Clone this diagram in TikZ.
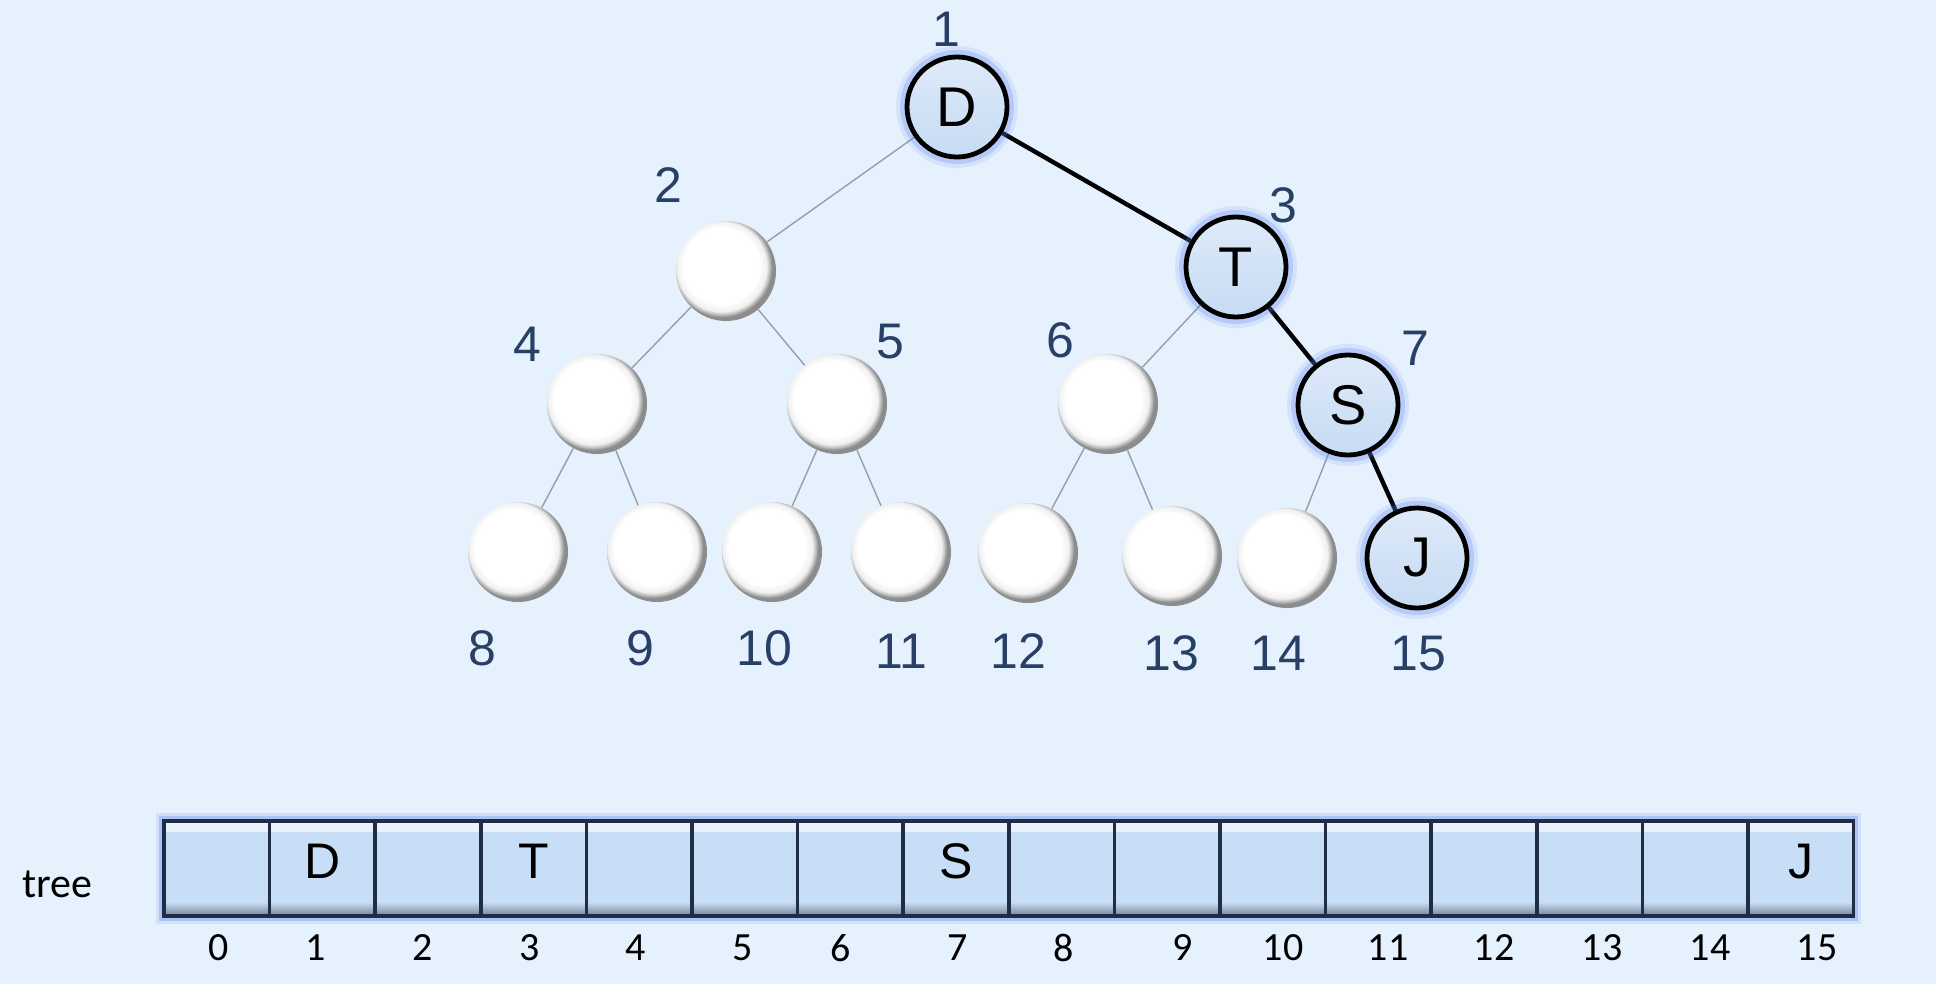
\documentclass[tikz,border=0pt]{standalone}
\usepackage{fontspec}
\setmainfont{Liberation Sans}
\newfontfamily\idxfont{Carlito}

\definecolor{paperblue}{RGB}{229,241,253}
\definecolor{lbl}{RGB}{40,64,102}
\definecolor{edgegray}{RGB}{150,158,168}
\definecolor{hitop}{RGB}{222,234,249}
\definecolor{hibot}{RGB}{198,219,243}
\definecolor{glow}{RGB}{90,130,240}
\definecolor{cellblue}{RGB}{199,222,246}
\definecolor{cellshade}{RGB}{120,130,146}
\definecolor{cellline}{RGB}{32,45,70}

% white pearl-like ball, lit from the upper left
\pgfdeclareradialshading{pearl}{\pgfpoint{-4bp}{4bp}}{%
  color(0bp)=(white); color(19bp)=(white); color(22.5bp)=(black!6);
  color(24.3bp)=(black!32); color(25bp)=(black!45); color(50bp)=(black!45)}

\pgfdeclarelayer{paper}
\pgfdeclarelayer{links}
\pgfsetlayers{paper,links,main}

\tikzset{
  pearlnode/.style={circle, minimum size=50pt, inner sep=0pt, shade, shading=pearl},
  hinode/.style={circle, minimum size=50pt, inner sep=0pt, draw=black, line width=2.4pt,
    top color=hitop, bottom color=hibot, font=\fontsize{28}{30}\selectfont,
    preaction={draw=glow, line width=11pt, draw opacity=0.12},
    preaction={draw=glow, line width=7pt, draw opacity=0.25}},
  treeidx/.style={text=lbl, inner sep=0pt, font=\fontsize{25}{27}\selectfont},
  thinlink/.style={draw=edgegray, line width=0.7pt},
  pathlink/.style={draw=black, line width=2.2pt},
  cellbox/.style={rectangle, minimum width=52.8pt, minimum height=47.5pt, inner sep=0pt,
    fill=cellblue, draw=cellline, line width=1.8pt, text depth=7pt,
    font=\fontsize{25}{27}\selectfont,
    path picture={
      \fill[top color=cellblue!35!white, bottom color=cellblue]
        (path picture bounding box.north west) rectangle ([yshift=-5pt]path picture bounding box.north east);
      \fill[top color=cellblue, bottom color=cellshade]
        ([yshift=7pt]path picture bounding box.south west) rectangle (path picture bounding box.south east);
    }},
  arrayidx/.style={inner sep=0pt, text=black, font=\idxfont\fontsize{20}{22}\selectfont},
}

\begin{document}
\begin{tikzpicture}[x=0.5pt, y=-0.5pt]
\useasboundingbox (0,0) rectangle (1936,984);
\begin{pgfonlayer}{paper}
  \fill[paperblue] (0,0) rectangle (1936,984);
\end{pgfonlayer}

% tree nodes
\node[hinode]    (n1)  at (957,107)  {D};
\node[pearlnode] (n2)  at (726,271)  {};
\node[hinode]    (n3)  at (1236,267) {T};
\node[pearlnode] (n4)  at (597,404)  {};
\node[pearlnode] (n5)  at (837,404)  {};
\node[pearlnode] (n6)  at (1108,404) {};
\node[hinode]    (n7)  at (1348,405) {S};
\node[pearlnode] (n8)  at (518,552)  {};
\node[pearlnode] (n9)  at (657,552)  {};
\node[pearlnode] (n10) at (772,552)  {};
\node[pearlnode] (n11) at (901,552)  {};
\node[pearlnode] (n12) at (1028,553) {};
\node[pearlnode] (n13) at (1172,556) {};
\node[pearlnode] (n14) at (1287,558) {};
\node[hinode]    (n15) at (1417,558) {J};

% position numbers of the tree
\node[treeidx] (t1)  at (946,29)   {1};
\node[treeidx] (t2)  at (668,185)  {2};
\node[treeidx] (t3)  at (1283,205) {3};
\node[treeidx] (t4)  at (527,344)  {4};
\node[treeidx] (t5)  at (890,342)  {5};
\node[treeidx] (t6)  at (1060,340) {6};
\node[treeidx] (t7)  at (1415,348) {7};
\node[treeidx] (t8)  at (482,648)  {8};
\node[treeidx] (t9)  at (640,648)  {9};
\node[treeidx] (t10) at (764,648)  {10};
\node[treeidx] (t11) at (901,651)  {11};
\node[treeidx] (t12) at (1018,651) {12};
\node[treeidx] (t13) at (1171,653) {13};
\node[treeidx] (t14) at (1278,653) {14};
\node[treeidx] (t15) at (1418,654) {15};

% tree edges, behind the nodes
\begin{pgfonlayer}{links}
  \draw[thinlink] (n1) -- (n2);
  \draw[thinlink] (n2) -- (n4);
  \draw[thinlink] (n2) -- (n5);
  \draw[thinlink] (n3) -- (n6);
  \draw[thinlink] (n4) -- (n8);
  \draw[thinlink] (n4) -- (n9);
  \draw[thinlink] (n5) -- (n10);
  \draw[thinlink] (n5) -- (n11);
  \draw[thinlink] (n6) -- (n12);
  \draw[thinlink] (n6) -- (n13);
  \draw[thinlink] (n7) -- (n14);
  \draw[pathlink] (n1) -- (n3);
  \draw[pathlink] (n3) -- (n7);
  \draw[pathlink] (n7) -- (n15);
\end{pgfonlayer}

% array glow
\draw[glow, line width=8pt, draw opacity=0.15] (164,821) rectangle (1853,916);
\draw[glow, line width=5pt, draw opacity=0.3] (164,821) rectangle (1853,916);

% array cells
\foreach \v [count=\i from 0] in {{},D,{},T,{},{},{},S,{},{},{},{},{},{},{},J}
  \node[cellbox] (c\i) at ({216.8+105.6*\i},868.5) {\v};

% array indices
\foreach \i/\x in {0/219,1/316,2/423,3/530,4/636,5/743,6/841,7/958,8/1064,9/1183,10/1283,11/1388,12/1494,13/1602,14/1710,15/1817}
  \node[arrayidx] (k\i) at (\x,948) {\i};

\node[arrayidx, font=\idxfont\fontsize{21}{23}\selectfont] (lab) at (57,884) {tree};
\end{tikzpicture}
\end{document}
